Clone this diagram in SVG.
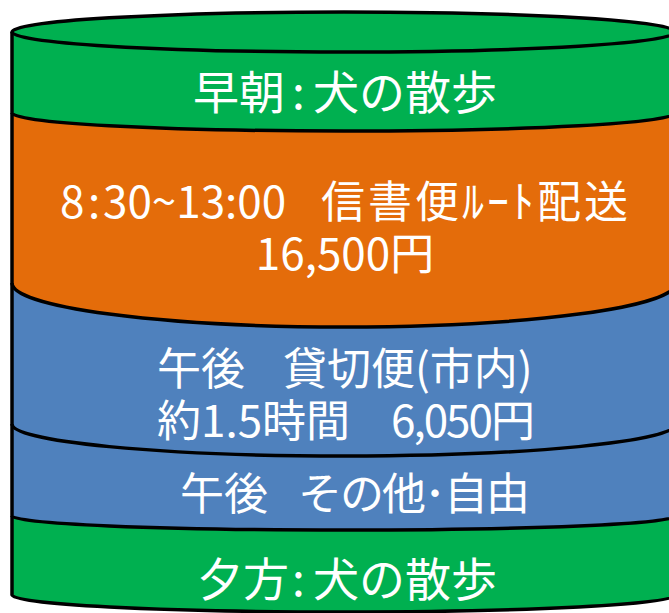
<svg xmlns="http://www.w3.org/2000/svg" width="669" height="613" viewBox="0 0 669 613">
<style>
.edge{fill:none;stroke:#000;stroke-width:3.5}
.g{fill:#00B050}.o{fill:#E46C0A}.b{fill:#4F81BD}
.t{font-family:"Noto Sans CJK JP","Noto Sans",sans-serif;font-size:44px;fill:#fff}
.big{font-size:46px}
</style>
<rect width="669" height="613" fill="#fff"/>
<g id="evening-walk">
<path class="g" d="M12 516 L12 595 A332 17 0 0 0 676 595 L676 516 Z"/>
<path class="edge" d="M12 595 A332 17 0 0 0 676 595"/>
<text class="t big" x="197" y="596">夕方<tspan x="292">:</tspan><tspan x="313">犬の散歩</tspan></text>
</g>
<g id="afternoon-free">
<path class="b" d="M12 424 L12 516 A332 14 0 0 0 676 516 L676 424 Z"/>
<path class="edge" d="M12 516 A332 14 0 0 0 676 516"/>
<text class="t" x="180" y="510">午後<tspan x="298" style="letter-spacing:-2px">その他･自由</tspan></text>
</g>
<g id="afternoon-charter">
<path class="b" d="M12 283 L12 424 A332 32 0 0 0 676 424 L676 283 Z"/>
<path class="edge" d="M12 424 A332 32 0 0 0 676 424"/>
<text class="t" x="157" y="385">午後<tspan x="283">貸切便(市内)</tspan></text>
<text class="t" x="157" y="437">約1.5時間<tspan x="391" style="letter-spacing:-2px">6,050円</tspan></text>
</g>
<g id="morning-delivery">
<path class="o" d="M12 113 L12 283 A332 44 0 0 0 676 283 L676 113 Z"/>
<path class="edge" d="M12 283 A332 44 0 0 0 676 283"/>
<text class="t" x="60" y="218">8<tspan x="88">:</tspan><tspan x="103">30~13:00</tspan><tspan x="321" style="letter-spacing:3px">信書便ﾙｰﾄ配送</tspan></text>
<text class="t" x="345" y="270" text-anchor="middle">16,500円</text>
</g>
<g id="morning-walk">
<path class="g" d="M12 32 L12 113 A332 18 0 0 0 676 113 L676 32 Z"/>
<path class="edge" d="M12 113 A332 18 0 0 0 676 113"/>
<ellipse class="g" cx="344" cy="32" rx="332" ry="20"/>
<ellipse class="edge" cx="344" cy="32" rx="332" ry="20"/>
<text class="t big" x="193" y="109">早朝<tspan x="292">:</tspan><tspan x="313">犬の散歩</tspan></text>
</g>
<g id="outline">
<path class="edge" d="M12 32 L12 595 M676 32 L676 595"/>
</g>
</svg>
